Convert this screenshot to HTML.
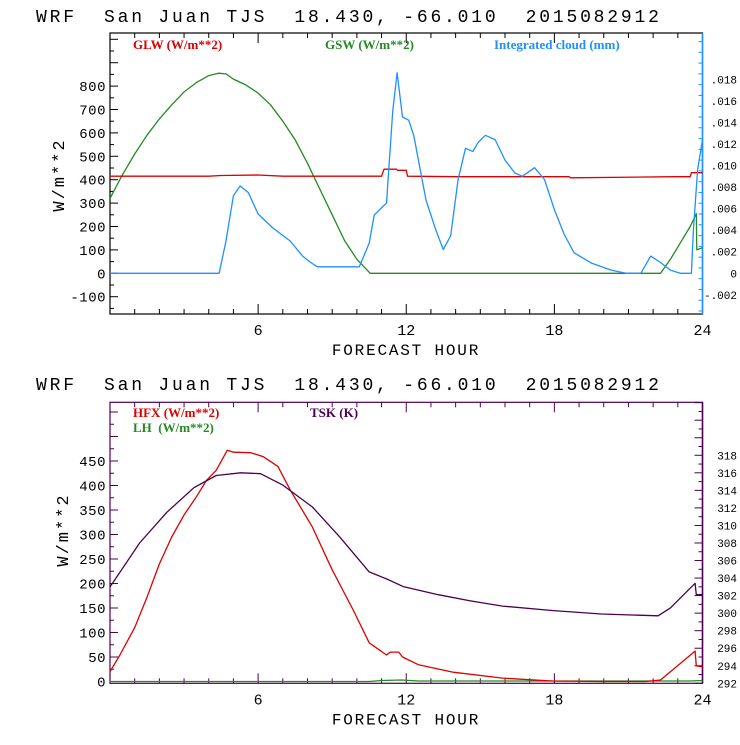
<!DOCTYPE html>
<html><head><meta charset="utf-8"><style>
body{margin:0;background:#fff}
svg text{font-family:"Liberation Mono",monospace;white-space:pre}
.leg{font-family:"Liberation Serif",serif;font-weight:bold;font-size:13px}
</style></head><body>
<svg id="c" width="740" height="740" xmlns="http://www.w3.org/2000/svg" xml:space="preserve"></svg>
<script>
// ---- data (hours) ----
const gswHours=[0,0.5,1,1.5,2,2.5,3,3.5,4,4.4,4.7,5,5.5,6,6.5,7,7.5,8,8.5,9,9.5,10,10.54,22.3,22.7,23.1,23.5,23.75,23.77,24];
const gswVals=[320,420,510,590,660,720,775,815,845,855,852,830,805,770,720,650,570,470,360,250,140,60,0,0,60,130,200,255,100,110];
const glwHours=[0,4,4.5,6,7,11,11.1,11.6,11.65,12,12.05,14,18.6,18.65,22.9,23.5,23.55,24];
const glwVals=[415,415,418,420,415,415,445,445,440,440,415,413,413,408,413,413,430,430];
const cldHours=[0,4.42,4.7,5,5.27,5.6,6,6.6,7.3,7.8,8.1,8.4,9,10.1,10.5,10.7,11.05,11.2,11.45,11.63,11.85,12.1,12.3,12.8,13.2,13.5,13.8,14.1,14.4,14.7,14.9,15.2,15.6,16,16.4,16.7,17.2,17.6,18,18.4,18.8,19.5,20.3,20.9,21.5,21.9,22.3,22.7,23.1,23.55,23.63,23.8,24];
const cldVals=[0,0,0.003,0.0072,0.0081,0.0075,0.0055,0.0042,0.003,0.0016,0.00105,0.0006,0.0006,0.0006,0.0028,0.0054,0.0062,0.0065,0.015,0.0186,0.0145,0.0142,0.0128,0.0068,0.004,0.0022,0.0035,0.0087,0.0116,0.0113,0.0121,0.0128,0.0124,0.0105,0.0093,0.009,0.0098,0.0087,0.0059,0.0036,0.0019,0.00095,0.0003,0,0,0.0016,0.001,0.0003,0,0,0.004,0.0096,0.0124];
const hfxHours=[0,0.4,1,1.5,2,2.5,3,3.5,3.9,4.3,4.75,5,5.7,6.2,6.8,7.3,8.2,9,9.85,10.5,11.2,11.35,11.7,11.85,12.5,13.9,15.9,17.9,19.9,21.7,22.3,23.7,23.75,24];
const hfxVals=[20,54,110,172,240,295,340,377,410,431,472,468,467,459,439,391,315,228,146,79,54,60,60,50,34,19,7,1,0,0,3,62,32,30];
const lhHours=[0,10.5,11,11.8,12.5,23.5,24];
const lhVals=[0,0,2,3,1,1,2];
const tskHours=[0,0.1,1.2,2.3,3.4,4.3,5.3,6.1,7.0,8.2,9.3,10.5,11.2,11.9,13.3,14.6,15.9,17.9,19.9,22.2,22.7,23.7,23.75,24];
const tskVals=[303,303.4,308.0,311.5,314.3,315.7,316.0,315.9,314.6,312.1,308.7,304.7,303.9,303.0,302.1,301.4,300.8,300.3,299.9,299.7,300.6,303.4,302.1,302.1];
const xTickLabels=["6","12","18","24"];
const topLeftLabels=[-100,0,100,200,300,400,500,600,700,800];
const topRightLabels=[-0.002,0,0.002,0.004,0.006,0.008,0.010,0.012,0.014,0.016,0.018];
const botLeftLabels=[0,50,100,150,200,250,300,350,400,450];
const botRightLabels=[292,294,296,298,300,302,304,306,308,310,312,314,316,318];

const NS="http://www.w3.org/2000/svg",svg=document.getElementById('c');
function mk(t,a,txt){const e=document.createElementNS(NS,t);for(const k in a)e.setAttribute(k,a[k]);if(txt!==undefined)e.textContent=txt;svg.appendChild(e);return e;}
const L=110,R=702.5;
const xs=h=>L+h*(R-L)/24;
function line(hours,vals,fy,color,name){let d='';hours.forEach((h,i)=>{d+=(i?'L':'M')+xs(h).toFixed(1)+' '+fy(vals[i]).toFixed(1);});
 const p=mk('path',{d:d,fill:'none',stroke:color,'stroke-width':1.3,'stroke-linejoin':'round'});
 
 }
function title(y){const t=mk('text',{x:36,y:y,'font-size':18,'letter-spacing':2.8,fill:'#000'},'WRF  San Juan TJS  18.430, -66.010  2015082912');
 }
function frame(T,B,col,rcol,yL,yR,lStep,lMinor,rStep,rMinor,lLabels,rLabels,rfmt){
 mk('rect',{x:L,y:T,width:R-L,height:B-T,fill:'none',stroke:col,'stroke-width':1.2});
 mk('line',{x1:R,y1:T,x2:R,y2:B,stroke:rcol,'stroke-width':1.5});
 for(let h=1;h<24;h++){const x=xs(h),len=h%6==0?10:5;
  mk('line',{x1:x,y1:B,x2:x,y2:B-len,stroke:col});mk('line',{x1:x,y1:T,x2:x,y2:T+len,stroke:col});}
 xTickLabels.forEach((s,i)=>{const t=mk('text',{x:xs((i+1)*6),y:B+21,'font-size':15,'text-anchor':'middle'},s);});
 const xt=mk('text',{x:406,y:B+41,'font-size':16,'letter-spacing':1.8,'text-anchor':'middle'},'FORECAST HOUR');
 
 for(let v=lMinor[0];v<=lMinor[1]+1e-9;v+=lMinor[2]){const y=yL(v);if(y<T||y>B)continue;const maj=Math.abs(v/lStep-Math.round(v/lStep))<1e-6;mk('line',{x1:L,y1:y,x2:L+(maj?8:4),y2:y,stroke:col});}
 lLabels.forEach(v=>{const t=mk('text',{x:106,y:yL(v)+5,'font-size':14,'text-anchor':'end','letter-spacing':0.5},String(v));});
 for(let v=rMinor[0];v<=rMinor[1]+1e-9;v+=rMinor[2]){const y=yR(v);if(y<T||y>B)continue;const maj=Math.abs(v/rStep-Math.round(v/rStep))<1e-6;mk('line',{x1:R,y1:y,x2:R-(maj?8:4),y2:y,stroke:rcol});}
 rLabels.forEach(v=>{const t=mk('text',{x:737,y:yR(v)+4,'font-size':11,'text-anchor':'end'},rfmt(v));});
}
// ---- top chart ----
title(22);
const T1=33,B1=314,z1=273.3,yT=v=>z1-v*0.234,yC=v=>z1-v/0.002*21.56;
frame(T1,B1,'#000','#1e90ff',yT,yC,100,[-150,1000,50],0.002,[-0.0035,0.0224,0.001],topLeftLabels,topRightLabels,v=>v==0?'0':(v<0?'-':'')+Math.abs(v).toFixed(3).replace(/^0/,''));
let yt=mk('text',{transform:'translate(64,175) rotate(-90)','font-size':17,'text-anchor':'middle','letter-spacing':2},'W/m**2');

line(gswHours,gswVals,yT,'#228b22','gsw-line');
line(glwHours,glwVals,yT,'#dd0000','glw-line');
line(cldHours,cldVals,yC,'#1e90ff','cloud-line');
[['GLW (W/m**2)',133,'#dd0000'],['GSW (W/m**2)',325,'#228b22'],['Integrated cloud (mm)',494,'#1e90ff']].forEach(a=>{const t=mk('text',{x:a[1],y:49,class:'leg',fill:a[2]},a[0]);});
// ---- bottom chart ----
title(390);
const T2=402.3,B2=683.3,z2=681.5,yB=v=>z2-v*0.49,yK=v=>683.3-(v-292)*8.77;
frame(T2,B2,'#4b0050','#4b0050',yB,yK,50,[0,600,25],2,[292,324,1],botLeftLabels,botRightLabels,v=>String(v));
yt=mk('text',{transform:'translate(68,530) rotate(-90)','font-size':17,'text-anchor':'middle','letter-spacing':2},'W/m**2');

line(lhHours,lhVals,yB,'#228b22','lh-line');
line(hfxHours,hfxVals,yB,'#dd0000','hfx-line');
line(tskHours,tskVals,yK,'#4b0050','tsk-line');
[['HFX (W/m**2)',133,417,'#dd0000'],['LH  (W/m**2)',133,432,'#228b22'],['TSK (K)',310,417,'#4b0050']].forEach(a=>{const t=mk('text',{x:a[1],y:a[2],class:'leg',fill:a[3]},a[0]);});
</script>
</body></html>
